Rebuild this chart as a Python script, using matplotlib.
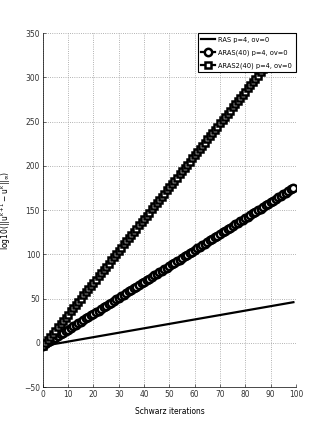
import matplotlib
matplotlib.use("Agg")
import matplotlib.pyplot as plt

# Datos
# __________________________

iters = list(range(100))

ras = [-3.5, -3, -2.5, -2, -1.5, -1, -0.5, 0, 0.5, 1,
       1.5, 2, 2.5, 3, 3.5, 4, 4.5, 5, 5.5, 6,
       6.5, 7, 7.5, 8, 8.5, 9, 9.5, 10, 10.5, 11,
       11.5, 12, 12.5, 13, 13.5, 14, 14.5, 15, 15.5, 16,
       16.5, 17, 17.5, 18, 18.5, 19, 19.5, 20, 20.5, 21,
       21.5, 22, 22.5, 23, 23.5, 24, 24.5, 25, 25.5, 26,
       26.5, 27, 27.5, 28, 28.5, 29, 29.5, 30, 30.5, 31,
       31.5, 32, 32.5, 33, 33.5, 34, 34.5, 35, 35.5, 36,
       36.5, 37, 37.5, 38, 38.5, 39, 39.5, 40, 40.5, 41,
       41.5, 42, 42.5, 43, 43.5, 44, 44.5, 45, 45.5, 46]

aras = [-3.0, -1.2, 0.6, 2.4, 4.2, 6.0, 7.8, 9.6, 11.4, 13.2,
        15.0, 16.8, 18.6, 20.4, 22.2, 24.0, 25.8, 27.6, 29.4, 31.2,
        33.0, 34.8, 36.6, 38.4, 40.2, 42.0, 43.8, 45.6, 47.4, 49.2,
        51.0, 52.8, 54.6, 56.4, 58.2, 60.0, 61.8, 63.6, 65.4, 67.2,
        69.0, 70.8, 72.6, 74.4, 76.2, 78.0, 79.8, 81.6, 83.4, 85.2,
        87.0, 88.8, 90.6, 92.4, 94.2, 96.0, 97.8, 99.6, 101.4, 103.2,
        105.0, 106.8, 108.6, 110.4, 112.2, 114.0, 115.8, 117.6, 119.4, 121.2,
        123.0, 124.8, 126.6, 128.4, 130.2, 132.0, 133.8, 135.6, 137.4, 139.2,
        141.0, 142.8, 144.6, 146.4, 148.2, 150.0, 151.8, 153.6, 155.4, 157.2,
        159.0, 160.8, 162.6, 164.4, 166.2, 168.0, 169.8, 171.6, 173.4, 175.2]

aras2 = [-4.0, -0.4, 3.2, 6.8, 10.4, 14.0, 17.6, 21.2, 24.8, 28.4,
         32.0, 35.6, 39.2, 42.8, 46.4, 50.0, 53.6, 57.2, 60.8, 64.4,
         68.0, 71.6, 75.2, 78.8, 82.4, 86.0, 89.6, 93.2, 96.8, 100.4,
         104.0, 107.6, 111.2, 114.8, 118.4, 122.0, 125.6, 129.2, 132.8, 136.4,
         140.0, 143.6, 147.2, 150.8, 154.4, 158.0, 161.6, 165.2, 168.8, 172.4,
         176.0, 179.6, 183.2, 186.8, 190.4, 194.0, 197.6, 201.2, 204.8, 208.4,
         212.0, 215.6, 219.2, 222.8, 226.4, 230.0, 233.6, 237.2, 240.8, 244.4,
         248.0, 251.6, 255.2, 258.8, 262.4, 266.0, 269.6, 273.2, 276.8, 280.4,
         284.0, 287.6, 291.2, 294.8, 298.4, 302.0, 305.6, 309.2, 312.8, 316.4,
         320.0, 323.6, 327.2, 330.8, 334.4, 338.0, 341.6, 345.2, 348.8, 352.4]

labels = ["RAS p=4, ov=0", "ARAS(40) p=4, ov=0", "ARAS2(40) p=4, ov=0"]
xticks = [0, 10, 20, 30, 40, 50, 60, 70, 80, 90, 100]
yticks = [-50, 0, 50, 100, 150, 200, 250, 300, 350]

# Grafico
# ________

plt.rcParams['font.family'] = ['Liberation Sans Narrow', 'DejaVu Sans']
plt.rcParams['font.stretch'] = 'condensed'
plt.rcParams['mathtext.fontset'] = 'custom'
plt.rcParams['mathtext.rm'] = 'DejaVu Sans:stretch=condensed'
plt.rcParams['mathtext.it'] = 'DejaVu Sans:stretch=condensed'

fig = plt.figure(figsize=(3.27, 4.36), dpi=100)
ax = fig.add_axes([0.131, 0.112, 0.774, 0.812])

ax.plot(iters, ras, color='black', lw=1.6, label=labels[0])
ax.plot(iters, aras, color='black', lw=1.6, marker='o', ms=5.3,
        mfc='white', mec='black', mew=1.8, label=labels[1])
ax.plot(iters, aras2, color='black', lw=1.6, marker='s', ms=4.5,
        mfc='white', mec='black', mew=1.8, label=labels[2])

ax.set_xlim(0, 100)
ax.set_ylim(-50, 350)
ax.set_xticks(xticks)
ax.set_yticks(yticks)
ax.tick_params(direction='in', length=2.5, width=0.5, labelsize=6, pad=2,
               colors='#333333')
ax.grid(True, linestyle=':', color='#999999', lw=0.6)
ax.spines['top'].set_visible(False)
ax.spines['right'].set_visible(False)
ax.spines['left'].set_linewidth(0.5)
ax.spines['bottom'].set_linewidth(0.5)

ax.set_xlabel("Schwarz iterations", fontsize=6, labelpad=6)
ax.set_ylabel(r"log10($||u^{k+1}-u^k||_\infty$)", fontsize=6, labelpad=8)

leg = ax.legend(loc='upper right', fontsize=5.3, fancybox=False,
                framealpha=1, edgecolor='black', borderaxespad=0.0,
                handlelength=1.9, handletextpad=0.4, labelspacing=0.85,
                borderpad=0.5)
leg.get_frame().set_linewidth(0.8)
leg.set_zorder(10)

fig.savefig("out.png", dpi=100)
